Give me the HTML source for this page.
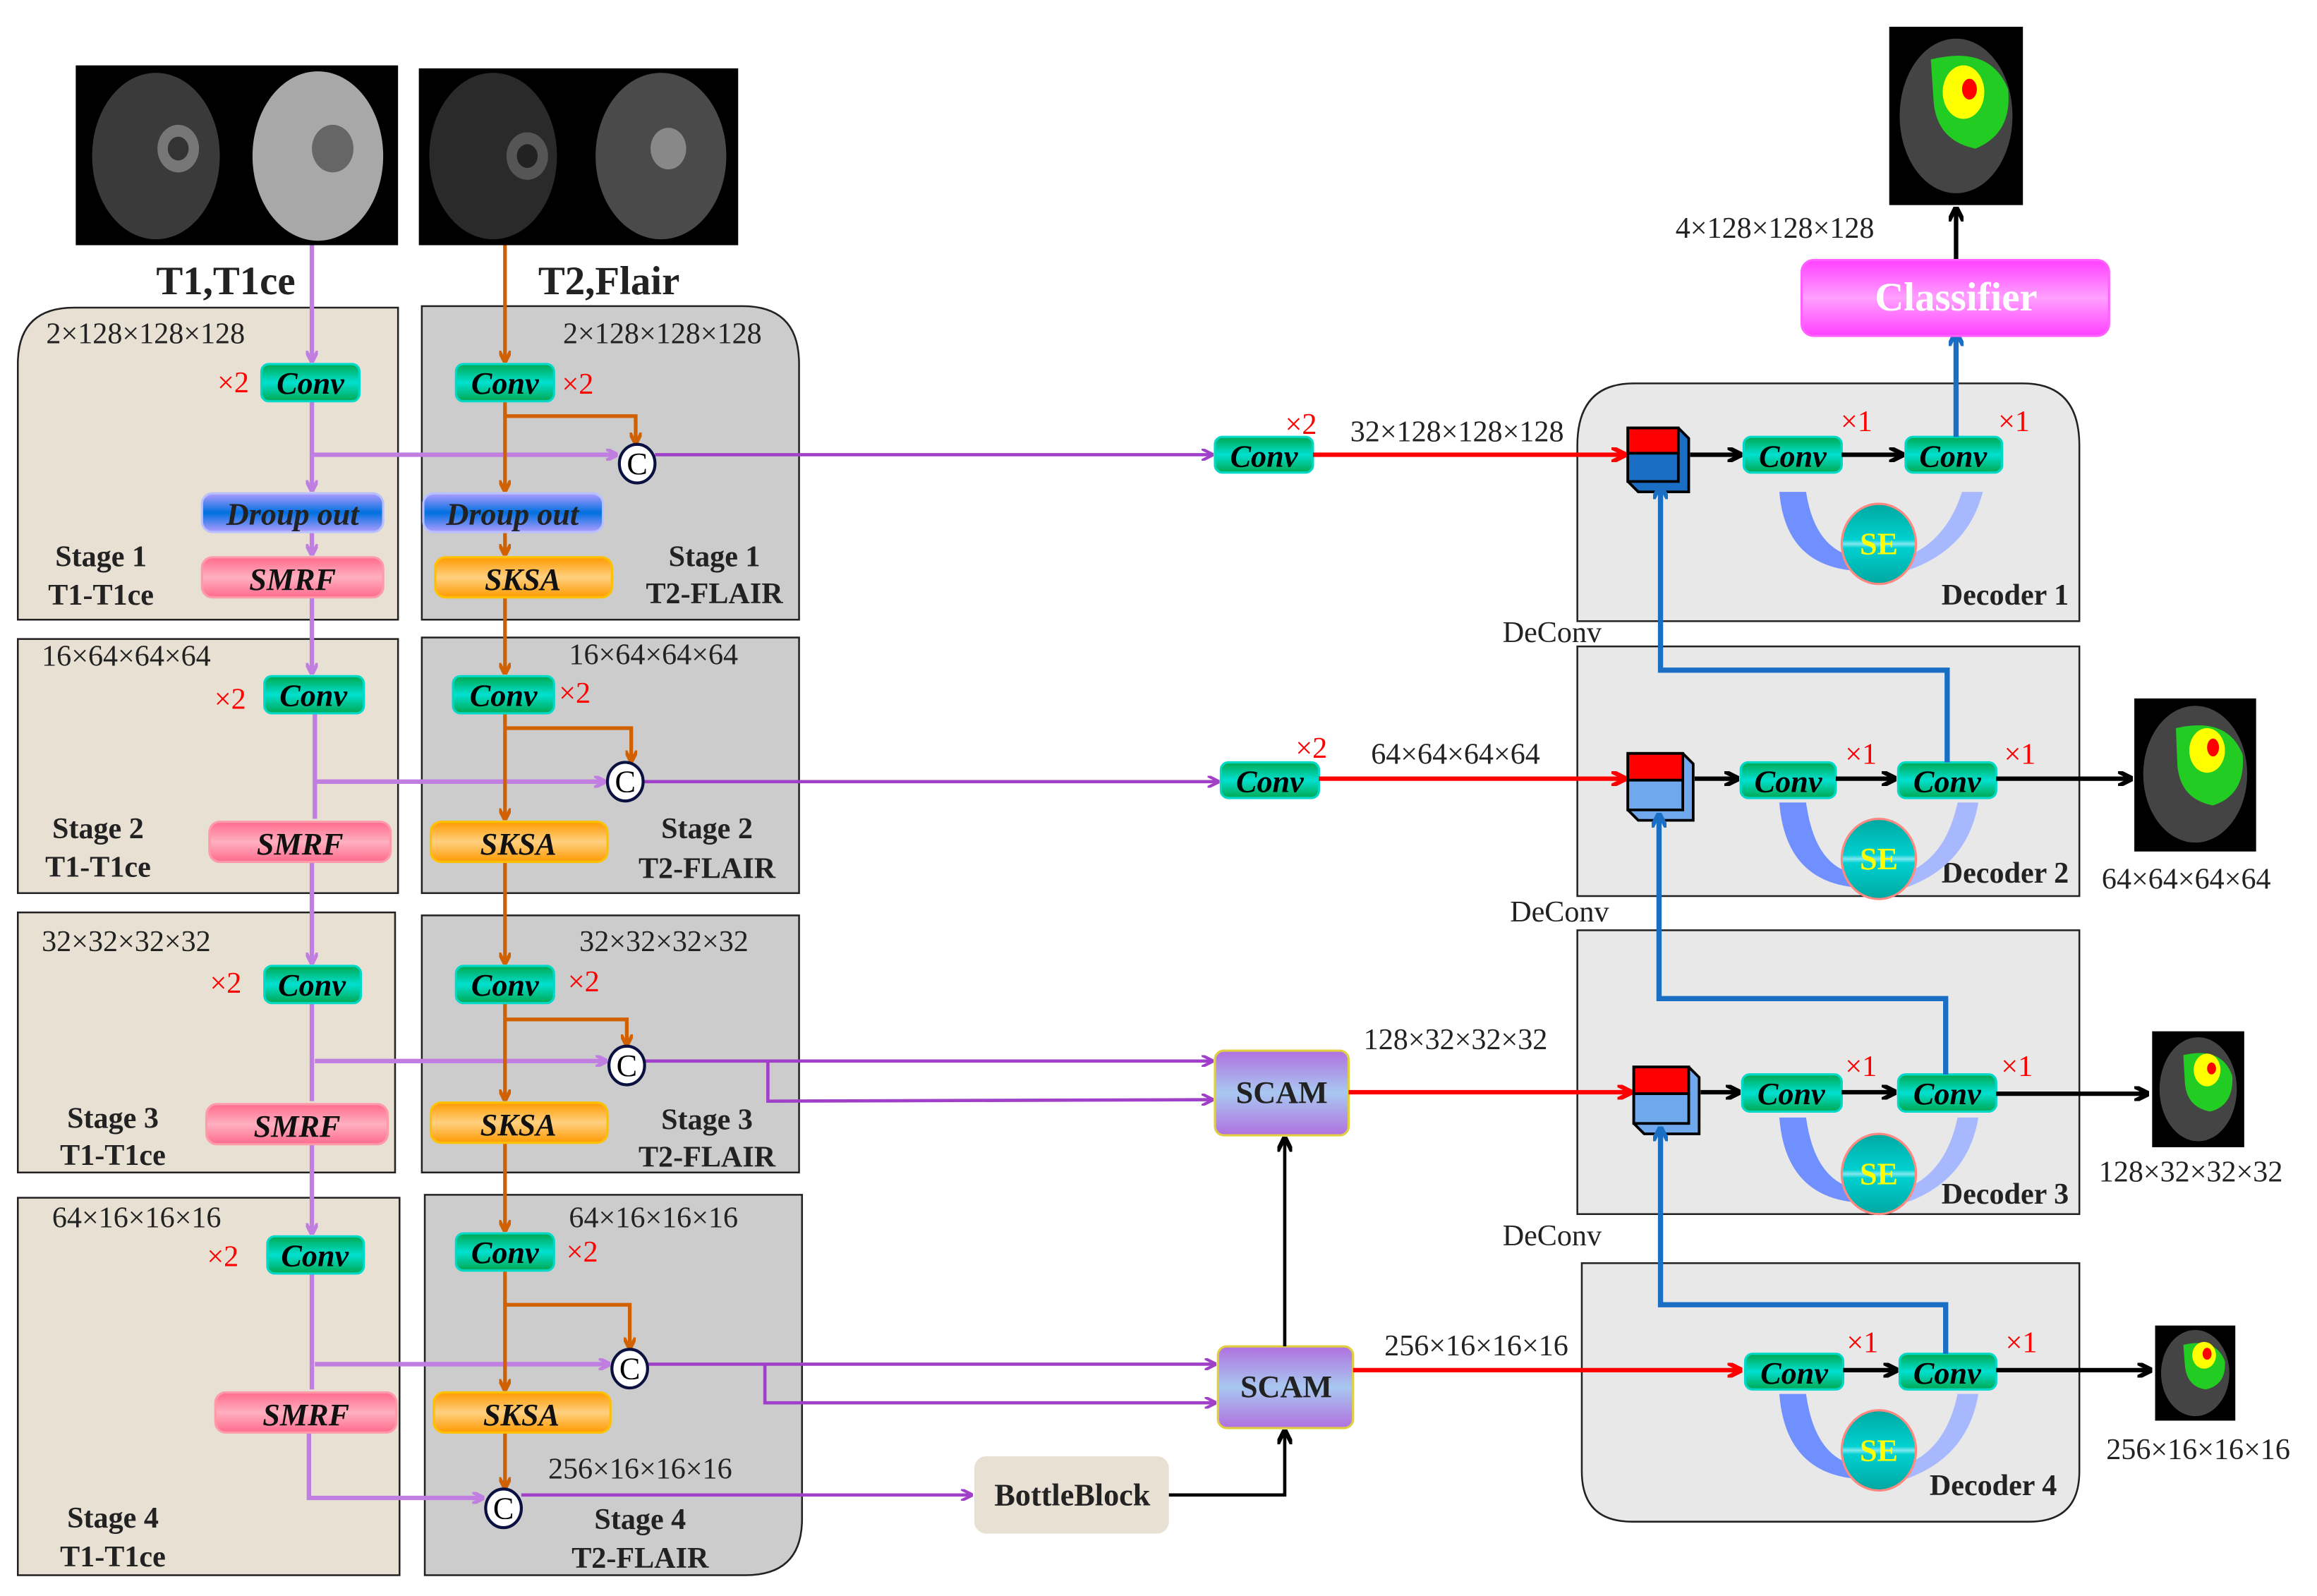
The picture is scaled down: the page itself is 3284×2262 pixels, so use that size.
<!DOCTYPE html>
<html><head><meta charset="utf-8"><style>html,body{margin:0;padding:0;background:#fff}svg{display:block}</style></head>
<body>
<svg width="3284" height="2262" viewBox="0 0 1560 1074" preserveAspectRatio="none" xmlns="http://www.w3.org/2000/svg" font-family="Liberation Serif, serif">
<defs>
<linearGradient id="gConv" x1="0" y1="0" x2="0" y2="1"><stop offset="0" stop-color="#00a850"/><stop offset="0.5" stop-color="#00e0d0"/><stop offset="1" stop-color="#00a850"/></linearGradient>
<linearGradient id="gDrop" x1="0" y1="0" x2="0" y2="1"><stop offset="0" stop-color="#b09cff"/><stop offset="0.5" stop-color="#0070e0"/><stop offset="1" stop-color="#b09cff"/></linearGradient>
<linearGradient id="gSmrf" x1="0" y1="0" x2="0" y2="1"><stop offset="0" stop-color="#ff6a8c"/><stop offset="0.5" stop-color="#ffb0c0"/><stop offset="1" stop-color="#ff6a8c"/></linearGradient>
<linearGradient id="gSksa" x1="0" y1="0" x2="0" y2="1"><stop offset="0" stop-color="#ff9a00"/><stop offset="0.5" stop-color="#ffd080"/><stop offset="1" stop-color="#ff9a00"/></linearGradient>
<linearGradient id="gScam" x1="0" y1="0" x2="0" y2="1"><stop offset="0" stop-color="#b070e0"/><stop offset="0.5" stop-color="#a8c8f0"/><stop offset="1" stop-color="#b070e0"/></linearGradient>
<linearGradient id="gCls" x1="0" y1="0" x2="0" y2="1"><stop offset="0" stop-color="#ff40ff"/><stop offset="0.5" stop-color="#ffa0ff"/><stop offset="1" stop-color="#ff40ff"/></linearGradient>
<linearGradient id="gSE" x1="0" y1="0" x2="0" y2="1"><stop offset="0" stop-color="#00a8a0"/><stop offset="0.45" stop-color="#00d0d0"/><stop offset="0.5" stop-color="#80e8f0"/><stop offset="0.55" stop-color="#00d0d0"/><stop offset="1" stop-color="#00a8a0"/></linearGradient>
<marker id="aP" markerWidth="8" markerHeight="8" refX="7" refY="4" orient="auto" markerUnits="userSpaceOnUse"><path d="M0,0 L8,4 L0,8" fill="none" stroke="#c07ee0" stroke-width="2.5"/></marker>
<marker id="aP2" markerWidth="8" markerHeight="8" refX="7" refY="4" orient="auto" markerUnits="userSpaceOnUse"><path d="M0,0 L8,4 L0,8" fill="none" stroke="#a040c8" stroke-width="2"/></marker>
<marker id="aO" markerWidth="8" markerHeight="8" refX="7" refY="4" orient="auto" markerUnits="userSpaceOnUse"><path d="M0,0 L8,4 L0,8" fill="none" stroke="#d06000" stroke-width="2.5"/></marker>
<marker id="aR" markerWidth="10" markerHeight="10" refX="9" refY="5" orient="auto" markerUnits="userSpaceOnUse"><path d="M0,0 L10,5 L0,10" fill="none" stroke="#ff0000" stroke-width="3"/></marker>
<marker id="aK" markerWidth="10" markerHeight="10" refX="9" refY="5" orient="auto" markerUnits="userSpaceOnUse"><path d="M0,0 L10,5 L0,10" fill="none" stroke="#000" stroke-width="3"/></marker>
<marker id="aB" markerWidth="10" markerHeight="10" refX="9" refY="5" orient="auto" markerUnits="userSpaceOnUse"><path d="M0,0 L10,5 L0,10" fill="none" stroke="#1a6fc4" stroke-width="3"/></marker>
</defs>

<rect x="51" y="44" width="217" height="121" fill="#000"/>
<ellipse cx="105" cy="105" rx="43" ry="56" fill="#3a3a3a"/><ellipse cx="120" cy="100" rx="14" ry="16" fill="#777"/><ellipse cx="120" cy="100" rx="7" ry="8" fill="#333"/>
<ellipse cx="214" cy="105" rx="44" ry="57" fill="#a8a8a8"/><ellipse cx="224" cy="100" rx="14" ry="16" fill="#666"/>
<rect x="282" y="46" width="215" height="119" fill="#000"/>
<ellipse cx="332" cy="105" rx="43" ry="56" fill="#2a2a2a"/><ellipse cx="355" cy="105" rx="14" ry="16" fill="#555"/><ellipse cx="355" cy="105" rx="7" ry="8" fill="#222"/>
<ellipse cx="445" cy="105" rx="44" ry="56" fill="#4a4a4a"/><ellipse cx="450" cy="100" rx="12" ry="14" fill="#888"/>
<text x="152" y="198" font-size="27" font-weight="bold" text-anchor="middle" fill="#222">T1,T1ce</text>
<text x="410" y="198" font-size="27" font-weight="bold" text-anchor="middle" fill="#222">T2,Flair</text>

<g stroke="#222" stroke-width="1.2">
<path d="M12,417 V245 Q12,207 50,207 H268 V417 Z" fill="#e8e0d3"/>
<rect x="12" y="430" width="256" height="171" fill="#e8e0d3"/>
<rect x="12" y="614" width="254" height="175" fill="#e8e0d3"/>
<rect x="12" y="806" width="257" height="254" fill="#e8e0d3"/>
<path d="M284,417 V206 H500 Q538,206 538,245 V417 Z" fill="#cccccc"/>
<rect x="284" y="429" width="254" height="172" fill="#cccccc"/>
<rect x="284" y="616" width="254" height="173" fill="#cccccc"/>
<path d="M286,804 H540 V1022 Q540,1060 502,1060 H286 Z" fill="#cccccc"/>
<path d="M1062,418 V300 Q1062,258 1100,258 H1362 Q1400,258 1400,300 V418 Z" fill="#e8e8e8"/>
<rect x="1062" y="435" width="338" height="168" fill="#e8e8e8"/>
<rect x="1062" y="626" width="338" height="191" fill="#e8e8e8"/>
<path d="M1065,850 H1400 V990 Q1400,1024 1366,1024 H1099 Q1065,1024 1065,990 Z" fill="#e8e8e8"/>
</g>

<g stroke="#c07ee0" stroke-width="3" fill="none">
<line x1="210" y1="165" x2="210" y2="243" marker-end="url(#aP)"/>
<line x1="210" y1="270" x2="210" y2="330" marker-end="url(#aP)"/>
<line x1="210" y1="358" x2="210" y2="373" marker-end="url(#aP)"/>
<line x1="210" y1="402" x2="210" y2="453" marker-end="url(#aP)"/>
<line x1="210" y1="306" x2="415" y2="306" marker-end="url(#aP)"/>
<line x1="212" y1="480" x2="212" y2="551" />
<line x1="212" y1="526" x2="407" y2="526" marker-end="url(#aP)"/>
<line x1="210" y1="580" x2="210" y2="648" marker-end="url(#aP)"/>
<line x1="210" y1="675" x2="210" y2="741" />
<line x1="212" y1="714" x2="408" y2="714" marker-end="url(#aP)"/>
<line x1="210" y1="770" x2="210" y2="830" marker-end="url(#aP)"/>
<line x1="210" y1="857" x2="210" y2="935" />
<line x1="212" y1="918" x2="410" y2="918" marker-end="url(#aP)"/>
<polyline points="208,964 208,1008 325,1008" marker-end="url(#aP)"/>
</g>
<g stroke="#a040c8" stroke-width="2.2" fill="none">
<line x1="441" y1="306" x2="816" y2="306" marker-end="url(#aP2)"/>
<line x1="433" y1="526" x2="820" y2="526" marker-end="url(#aP2)"/>
<line x1="434" y1="714" x2="816" y2="714" marker-end="url(#aP2)"/>
<polyline points="517,714 517,741 816,740" marker-end="url(#aP2)"/>
<line x1="436" y1="918" x2="818" y2="918" marker-end="url(#aP2)"/>
<polyline points="515,918 515,944 818,944" marker-end="url(#aP2)"/>
<line x1="351" y1="1006" x2="654" y2="1006" marker-end="url(#aP2)"/>
</g>

<g stroke="#d06000" stroke-width="2.5" fill="none">
<line x1="340" y1="165" x2="340" y2="243" marker-end="url(#aO)"/>
<line x1="340" y1="270" x2="340" y2="330" marker-end="url(#aO)"/>
<polyline points="340,280 428,280 428,298" marker-end="url(#aO)"/>
<line x1="340" y1="358" x2="340" y2="373" marker-end="url(#aO)"/>
<line x1="340" y1="402" x2="340" y2="453" marker-end="url(#aO)"/>
<line x1="340" y1="480" x2="340" y2="551" marker-end="url(#aO)"/>
<polyline points="340,490 425,490 425,512" marker-end="url(#aO)"/>
<line x1="340" y1="580" x2="340" y2="648" marker-end="url(#aO)"/>
<line x1="340" y1="675" x2="340" y2="740" marker-end="url(#aO)"/>
<polyline points="340,686 422,686 422,703" marker-end="url(#aO)"/>
<line x1="340" y1="769" x2="340" y2="828" marker-end="url(#aO)"/>
<line x1="340" y1="855" x2="340" y2="935" marker-end="url(#aO)"/>
<polyline points="340,878 424,878 424,907" marker-end="url(#aO)"/>
<line x1="340" y1="964" x2="340" y2="1001" marker-end="url(#aO)"/>
</g>

<g fill="#fff" stroke="#0a1040" stroke-width="2">
<ellipse cx="429" cy="312" rx="12" ry="13"/><ellipse cx="421" cy="526" rx="12" ry="13"/><ellipse cx="422" cy="717" rx="12" ry="13"/><ellipse cx="424" cy="921" rx="12" ry="13"/><ellipse cx="339" cy="1015" rx="12" ry="13"/>
</g>
<g font-size="21" text-anchor="middle" fill="#000">
<text x="429" y="319">C</text><text x="421" y="533">C</text><text x="422" y="724">C</text><text x="424" y="928">C</text><text x="339" y="1022">C</text>
</g>

<g fill="url(#gConv)" stroke="#00d8c8" stroke-width="1.5">
<rect x="176" y="245" width="66" height="25" rx="5"/><rect x="178" y="455" width="67" height="25" rx="5"/><rect x="178" y="650" width="65" height="25" rx="5"/><rect x="180" y="832" width="65" height="25" rx="5"/>
<rect x="307" y="245" width="66" height="25" rx="5"/><rect x="305" y="455" width="68" height="25" rx="5"/><rect x="307" y="650" width="66" height="25" rx="5"/><rect x="307" y="830" width="66" height="25" rx="5"/>
<rect x="818" y="294" width="66" height="24" rx="5"/><rect x="822" y="513" width="66" height="24" rx="5"/>
<rect x="1174" y="294" width="66" height="24" rx="5"/><rect x="1283" y="294" width="65" height="24" rx="5"/>
<rect x="1172" y="513" width="64" height="24" rx="5"/><rect x="1278" y="513" width="66" height="24" rx="5"/>
<rect x="1173" y="723" width="67" height="25" rx="5"/><rect x="1278" y="723" width="66" height="25" rx="5"/>
<rect x="1175" y="911" width="66" height="24" rx="5"/><rect x="1279" y="911" width="65" height="24" rx="5"/>
</g>
<g font-size="21" font-style="italic" text-anchor="middle" fill="#000" font-weight="bold">
<text x="209" y="265">Conv</text><text x="211" y="475">Conv</text><text x="210" y="670">Conv</text><text x="212" y="852">Conv</text>
<text x="340" y="265">Conv</text><text x="339" y="475">Conv</text><text x="340" y="670">Conv</text><text x="340" y="850">Conv</text>
<text x="851" y="314">Conv</text><text x="855" y="533">Conv</text>
<text x="1207" y="314">Conv</text><text x="1315" y="314">Conv</text>
<text x="1204" y="533">Conv</text><text x="1311" y="533">Conv</text>
<text x="1206" y="743">Conv</text><text x="1311" y="743">Conv</text>
<text x="1208" y="931">Conv</text><text x="1311" y="931">Conv</text>
</g>

<g stroke-width="1.5">
<rect x="136" y="332" width="122" height="26" rx="7" fill="url(#gDrop)" stroke="#b8c0ff"/>
<rect x="285" y="332" width="121" height="26" rx="7" fill="url(#gDrop)" stroke="#b8c0ff"/>
<rect x="136" y="375" width="122" height="27" rx="7" fill="url(#gSmrf)" stroke="#ff9aa8"/>
<rect x="141" y="553" width="122" height="27" rx="7" fill="url(#gSmrf)" stroke="#ff9aa8"/>
<rect x="139" y="743" width="122" height="27" rx="7" fill="url(#gSmrf)" stroke="#ff9aa8"/>
<rect x="145" y="937" width="122" height="27" rx="7" fill="url(#gSmrf)" stroke="#ff9aa8"/>
<rect x="293" y="375" width="119" height="27" rx="7" fill="url(#gSksa)" stroke="#ffc000"/>
<rect x="290" y="553" width="119" height="27" rx="7" fill="url(#gSksa)" stroke="#ffc000"/>
<rect x="290" y="742" width="119" height="27" rx="7" fill="url(#gSksa)" stroke="#ffc000"/>
<rect x="292" y="937" width="119" height="27" rx="7" fill="url(#gSksa)" stroke="#ffc000"/>
</g>
<g font-size="21" font-style="italic" text-anchor="middle" fill="#222" font-weight="bold">
<text x="197" y="353">Droup out</text><text x="345" y="353">Droup out</text>
</g>
<g font-size="21" font-style="italic" font-weight="bold" text-anchor="middle" fill="#111">
<text x="197" y="397">SMRF</text><text x="202" y="575">SMRF</text><text x="200" y="765">SMRF</text><text x="206" y="959">SMRF</text>
<text x="352" y="397">SKSA</text><text x="349" y="575">SKSA</text><text x="349" y="764">SKSA</text><text x="351" y="959">SKSA</text>
</g>

<g font-size="20" fill="#ff0000" text-anchor="middle">
<text x="157" y="264">×2</text><text x="389" y="265">×2</text><text x="155" y="477">×2</text><text x="387" y="473">×2</text>
<text x="152" y="668">×2</text><text x="393" y="667">×2</text><text x="150" y="852">×2</text><text x="392" y="849">×2</text>
<text x="876" y="292">×2</text><text x="883" y="510">×2</text>
<text x="1250" y="290">×1</text><text x="1356" y="290">×1</text><text x="1253" y="514">×1</text><text x="1360" y="514">×1</text>
<text x="1253" y="724">×1</text><text x="1358" y="724">×1</text><text x="1254" y="910">×1</text><text x="1361" y="910">×1</text>
</g>

<g font-size="20" fill="#222" text-anchor="middle">
<text x="98" y="231">2×128×128×128</text><text x="446" y="231">2×128×128×128</text>
<text x="85" y="448">16×64×64×64</text><text x="440" y="447">16×64×64×64</text>
<text x="85" y="640">32×32×32×32</text><text x="447" y="640">32×32×32×32</text>
<text x="92" y="826">64×16×16×16</text><text x="440" y="826">64×16×16×16</text>
<text x="431" y="995">256×16×16×16</text>
<text x="981" y="297">32×128×128×128</text><text x="980" y="514">64×64×64×64</text>
<text x="980" y="706">128×32×32×32</text><text x="994" y="912">256×16×16×16</text>
<text x="1195" y="160">4×128×128×128</text>
<text x="1472" y="598">64×64×64×64</text><text x="1475" y="795">128×32×32×32</text><text x="1480" y="982">256×16×16×16</text>
<text x="1045" y="432">DeConv</text><text x="1050" y="620">DeConv</text><text x="1045" y="838">DeConv</text>
</g>
<g font-size="20" font-weight="bold" fill="#222" text-anchor="middle">
<text x="68" y="381">Stage 1</text><text x="68" y="407">T1-T1ce</text><text x="481" y="381">Stage 1</text><text x="481" y="406">T2-FLAIR</text>
<text x="66" y="564">Stage 2</text><text x="66" y="590">T1-T1ce</text><text x="476" y="564">Stage 2</text><text x="476" y="591">T2-FLAIR</text>
<text x="76" y="759">Stage 3</text><text x="76" y="784">T1-T1ce</text><text x="476" y="760">Stage 3</text><text x="476" y="785">T2-FLAIR</text>
<text x="76" y="1028">Stage 4</text><text x="76" y="1054">T1-T1ce</text><text x="431" y="1029">Stage 4</text><text x="431" y="1055">T2-FLAIR</text>
<text x="1350" y="407">Decoder 1</text><text x="1350" y="594">Decoder 2</text><text x="1350" y="810">Decoder 3</text><text x="1342" y="1006">Decoder 4</text>
</g>

<rect x="818" y="707" width="90" height="57" rx="6" fill="url(#gScam)" stroke="#e0d040" stroke-width="1.5"/>
<rect x="820" y="906" width="91" height="55" rx="6" fill="url(#gScam)" stroke="#e0d040" stroke-width="1.5"/>
<text x="863" y="742" font-size="21" font-weight="bold" text-anchor="middle" fill="#222">SCAM</text>
<text x="866" y="940" font-size="21" font-weight="bold" text-anchor="middle" fill="#222">SCAM</text>
<rect x="656" y="980" width="131" height="52" rx="8" fill="#e8e0d3"/>
<text x="722" y="1013" font-size="21" font-weight="bold" text-anchor="middle" fill="#222">BottleBlock</text>
<g stroke="#000" stroke-width="2.2" fill="none">
<polyline points="787,1006 865,1006 865,963" marker-end="url(#aK)"/>
<line x1="865" y1="906" x2="865" y2="766" marker-end="url(#aK)"/>
</g>

<g stroke="#ff0000" stroke-width="3" fill="none">
<line x1="884" y1="306" x2="1094" y2="306" marker-end="url(#aR)"/>
<line x1="888" y1="524" x2="1094" y2="524" marker-end="url(#aR)"/>
<line x1="908" y1="735" x2="1098" y2="735" marker-end="url(#aR)"/>
<line x1="911" y1="922" x2="1172" y2="922" marker-end="url(#aR)"/>
</g>

<g stroke="#000" stroke-width="1.8">
<path d="M1096,288 h34 l7,7 v36 h-34 l-7,-7 Z" fill="#1a6fc4"/>
<rect x="1096" y="288" width="34" height="17" fill="#ff0000"/><rect x="1096" y="305" width="34" height="19" fill="#1a6fc4"/>
<path d="M1096,507 h37 l7,7 v38 h-37 l-7,-7 Z" fill="#6fa8ec"/>
<rect x="1096" y="507" width="37" height="18" fill="#ff0000"/><rect x="1096" y="525" width="37" height="20" fill="#6fa8ec"/>
<path d="M1100,718 h37 l7,7 v38 h-37 l-7,-7 Z" fill="#6fa8ec"/>
<rect x="1100" y="718" width="37" height="18" fill="#ff0000"/><rect x="1100" y="736" width="37" height="20" fill="#6fa8ec"/>
</g>

<g stroke="#000" stroke-width="3" fill="none">
<line x1="1138" y1="306" x2="1172" y2="306" marker-end="url(#aK)"/><line x1="1240" y1="306" x2="1281" y2="306" marker-end="url(#aK)"/>
<line x1="1141" y1="524" x2="1170" y2="524" marker-end="url(#aK)"/><line x1="1236" y1="524" x2="1276" y2="524" marker-end="url(#aK)"/>
<line x1="1145" y1="735" x2="1171" y2="735" marker-end="url(#aK)"/><line x1="1240" y1="735" x2="1276" y2="735" marker-end="url(#aK)"/>
<line x1="1241" y1="922" x2="1277" y2="922" marker-end="url(#aK)"/>
<line x1="1344" y1="524" x2="1435" y2="524" marker-end="url(#aK)"/>
<line x1="1344" y1="736" x2="1446" y2="736" marker-end="url(#aK)"/>
<line x1="1344" y1="922" x2="1448" y2="922" marker-end="url(#aK)"/>
<line x1="1317" y1="175" x2="1317" y2="140" marker-end="url(#aK)"/>
</g>

<g>
<path d="M1198,331 h18 Q1222,370 1250,375 L1248,384 Q1202,380 1198,331 Z" fill="#7090ff"/>
<path d="M1335,331 h-14 Q1310,365 1282,375 L1284,384 Q1325,370 1335,331 Z" fill="#a8b8ff"/>
<path d="M1198,540 h18 Q1222,584 1250,588 L1248,597 Q1202,592 1198,540 Z" fill="#7090ff"/>
<path d="M1332,540 h-14 Q1310,578 1282,588 L1284,597 Q1325,582 1332,540 Z" fill="#a8b8ff"/>
<path d="M1198,752 h18 Q1222,795 1250,800 L1248,809 Q1202,804 1198,752 Z" fill="#7090ff"/>
<path d="M1332,752 h-14 Q1310,790 1282,800 L1284,809 Q1325,794 1332,752 Z" fill="#a8b8ff"/>
<path d="M1198,938 h18 Q1222,981 1250,986 L1248,995 Q1202,990 1198,938 Z" fill="#7090ff"/>
<path d="M1332,938 h-14 Q1310,976 1282,986 L1284,995 Q1325,980 1332,938 Z" fill="#a8b8ff"/>
</g>
<g fill="url(#gSE)" stroke="#ff8880" stroke-width="1.5">
<ellipse cx="1265" cy="366" rx="25" ry="27"/><ellipse cx="1265" cy="578" rx="25" ry="27"/><ellipse cx="1265" cy="790" rx="25" ry="27"/><ellipse cx="1265" cy="976" rx="25" ry="27"/>
</g>
<g font-size="21" font-weight="bold" fill="#ffff00" text-anchor="middle">
<text x="1265" y="373">SE</text><text x="1265" y="585">SE</text><text x="1265" y="797">SE</text><text x="1265" y="983">SE</text>
</g>

<g stroke="#1a6fc4" stroke-width="3.5" fill="none">
<line x1="1317" y1="294" x2="1317" y2="224" marker-end="url(#aB)"/>
<polyline points="1311,513 1311,451 1118,451 1118,327" marker-end="url(#aB)"/>
<polyline points="1310,723 1310,672 1117,672 1117,548" marker-end="url(#aB)"/>
<polyline points="1310,911 1310,878 1118,878 1118,759" marker-end="url(#aB)"/>
</g>

<rect x="1213" y="175" width="207" height="51" rx="8" fill="url(#gCls)" stroke="#ff60ff" stroke-width="1.5"/>
<text x="1317" y="209" font-size="27" font-weight="bold" fill="#fff" text-anchor="middle">Classifier</text>

<rect x="1272" y="18" width="90" height="120" fill="#000"/>
<ellipse cx="1317" cy="78" rx="38" ry="52" fill="#444"/>
<path d="M1300,40 Q1340,30 1352,60 Q1355,90 1330,100 Q1305,95 1302,70 Z" fill="#22cc22"/>
<ellipse cx="1322" cy="62" rx="14" ry="18" fill="#ffff00"/><ellipse cx="1326" cy="60" rx="5" ry="7" fill="#ff0000"/>
<rect x="1437" y="470" width="82" height="103" fill="#000"/>
<ellipse cx="1478" cy="521" rx="35" ry="46" fill="#444"/>
<path d="M1465,490 Q1500,482 1510,508 Q1512,535 1490,542 Q1468,538 1466,515 Z" fill="#22cc22"/>
<ellipse cx="1486" cy="505" rx="12" ry="15" fill="#ffff00"/><ellipse cx="1490" cy="503" rx="4" ry="6" fill="#ff0000"/>
<rect x="1449" y="694" width="62" height="78" fill="#000"/>
<ellipse cx="1480" cy="733" rx="26" ry="35" fill="#444"/>
<path d="M1470,710 Q1496,704 1503,724 Q1504,744 1488,748 Q1472,745 1471,728 Z" fill="#22cc22"/>
<ellipse cx="1486" cy="720" rx="9" ry="11" fill="#ffff00"/><ellipse cx="1489" cy="719" rx="3" ry="4" fill="#ff0000"/>
<rect x="1451" y="892" width="54" height="64" fill="#000"/>
<ellipse cx="1478" cy="924" rx="23" ry="29" fill="#444"/>
<path d="M1470,905 Q1492,900 1498,916 Q1499,932 1485,935 Q1472,933 1471,918 Z" fill="#22cc22"/>
<ellipse cx="1484" cy="912" rx="8" ry="9" fill="#ffff00"/><ellipse cx="1486" cy="911" rx="3" ry="4" fill="#ff0000"/>
</svg>
</body></html>
